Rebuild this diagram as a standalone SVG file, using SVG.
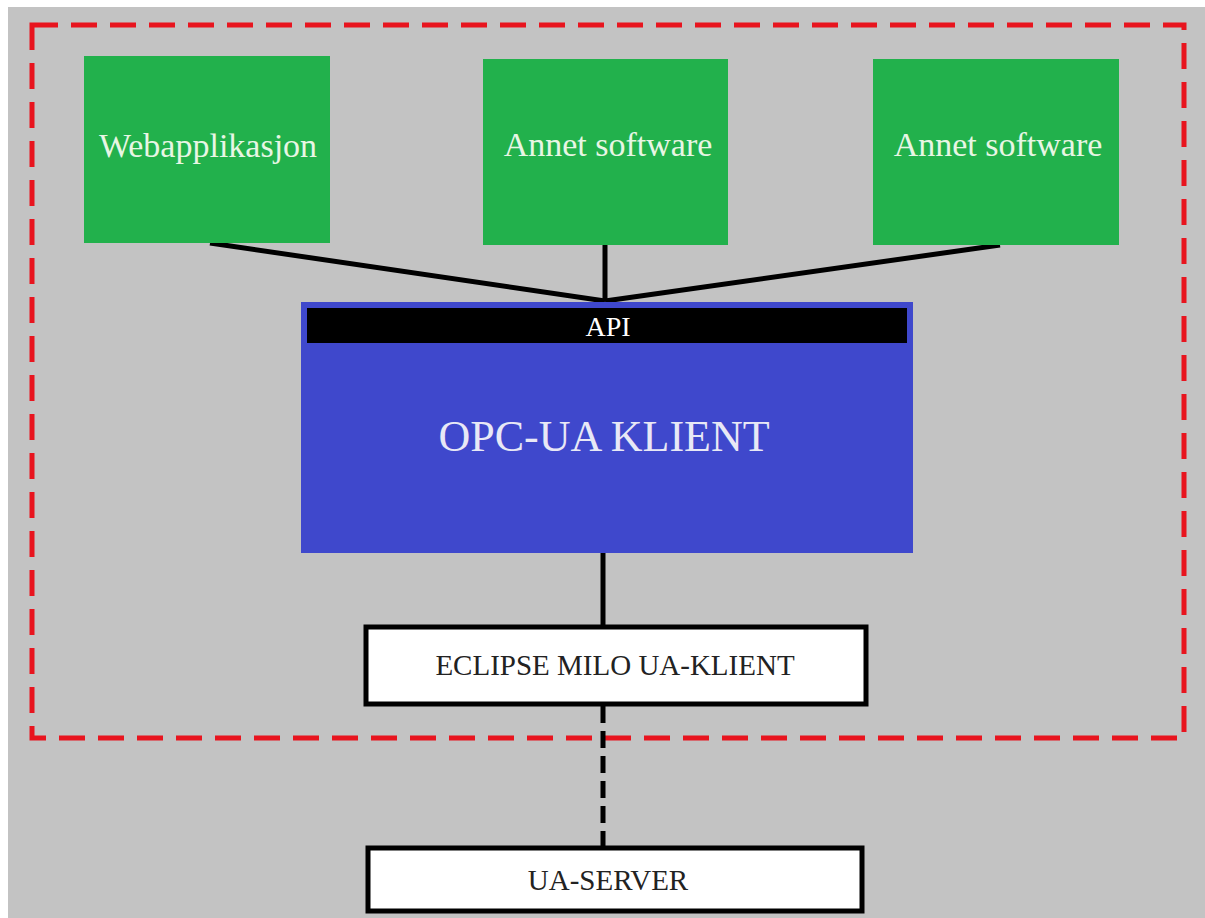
<svg xmlns="http://www.w3.org/2000/svg" width="1205" height="918" viewBox="0 0 1205 918">
<style>
.serif{font-family:"Liberation Serif","Times New Roman",serif;text-anchor:middle}
.green{fill:#22b14c}
.gtext{fill:#e8f6e4;font-size:34px}
.wbox{fill:#ffffff;stroke:#000000;stroke-width:5}
.dtext{fill:#222222;font-size:29px}
.conn{stroke:#000000;stroke-width:5;fill:none}
</style>
<rect x="0" y="0" width="1205" height="918" fill="#ffffff"/>
<rect x="8" y="7" width="1197" height="911" fill="#c3c3c3"/>
<rect id="boundary" x="32" y="25" width="1152" height="713" fill="none" stroke="#e8141e" stroke-width="5" stroke-dasharray="26,13"/>
<g id="connectors">
<line class="conn" x1="210" y1="243" x2="605" y2="301"/>
<line class="conn" x1="605" y1="245" x2="605" y2="301"/>
<line class="conn" x1="1000" y1="245" x2="605" y2="301"/>
<line class="conn" x1="603" y1="553" x2="603" y2="627"/>
<line class="conn" x1="603" y1="706" x2="603" y2="848" stroke-dasharray="17,8"/>
</g>
<g id="webapp">
<rect class="green" x="84" y="56" width="246" height="187"/>
<text class="serif gtext" x="208" y="157">Webapplikasjon</text>
</g>
<g id="annet1">
<rect class="green" x="483" y="59" width="245" height="186"/>
<text class="serif gtext" x="608" y="156">Annet software</text>
</g>
<g id="annet2">
<rect class="green" x="873" y="59" width="246" height="186"/>
<text class="serif gtext" x="998" y="156">Annet software</text>
</g>
<g id="opcua">
<rect x="301" y="302" width="612" height="251" fill="#3f48cc"/>
<rect x="307" y="308" width="600" height="35" fill="#000000"/>
<text class="serif" x="608" y="336" fill="#ffffff" font-size="28">API</text>
<text class="serif" x="604" y="451" fill="#e8e8f6" font-size="44">OPC-UA KLIENT</text>
</g>
<g id="milo">
<rect class="wbox" x="366" y="627" width="500" height="77"/>
<text class="serif dtext" x="615" y="675">ECLIPSE MILO UA-KLIENT</text>
</g>
<g id="server">
<rect class="wbox" x="368" y="848" width="494" height="63"/>
<text class="serif dtext" x="608" y="890">UA-SERVER</text>
</g>
</svg>
